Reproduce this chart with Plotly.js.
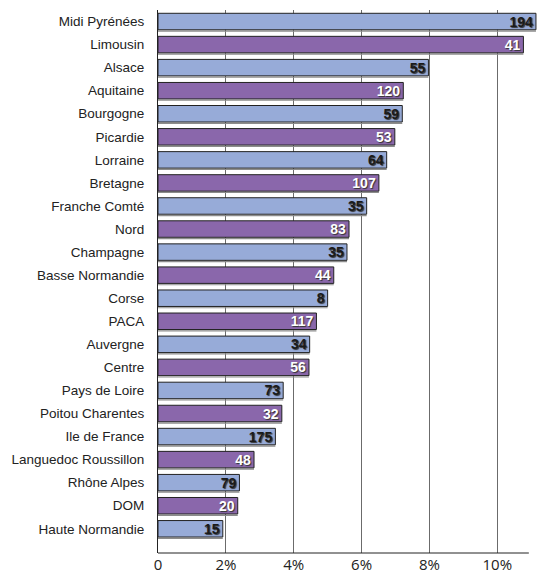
<!DOCTYPE html>
<html>
<head>
<meta charset="utf-8">
<script src="https://cdn.plot.ly/plotly-3.0.1.min.js"></script>
<style>html,body{margin:0;padding:0;background:#fff;}#chart{width:539px;height:576px;}</style>
</head>
<body>
<div id="chart"></div>
<script>
const regions = ["Midi Pyrénées","Limousin","Alsace","Aquitaine","Bourgogne","Picardie","Lorraine","Bretagne","Franche Comté","Nord","Champagne","Basse Normandie","Corse","PACA","Auvergne","Centre","Pays de Loire","Poitou Charentes","Ile de France","Languedoc Roussillon","Rhône Alpes","DOM","Haute Normandie"];
const shares = [11.14,10.77,7.97,7.23,7.20,6.98,6.74,6.51,6.15,5.63,5.57,5.18,5.00,4.67,4.47,4.45,3.69,3.65,3.46,2.83,2.40,2.35,1.91];
const counts = [194,41,55,120,59,53,64,107,35,83,35,44,8,117,34,56,73,32,175,48,79,20,15];
const tickVals = [0,2,4,6,8,10];
const tickText = ["0","2%","4%","6%","8%","10%"];

const BLUE = "#97abd8", PURPLE = "#8a67ab";
const barColors = regions.map((r,i)=> i%2===0 ? BLUE : PURPLE);
const textColors = regions.map((r,i)=> i%2===0 ? "#1a1a1a" : "#ffffff");

const shadow = {
  type:"bar", orientation:"h", x:shares, y:regions,
  width:0.05, offset:0.39,
  marker:{color:"#8c8c8c", line:{width:0}},
  hoverinfo:"skip", showlegend:false
};
const bars = {
  type:"bar", orientation:"h", x:shares, y:regions,
  width:0.715, offset:-0.3575,
  marker:{color:barColors, line:{color:"#222222", width:1}},
  text:counts.map(String), textposition:"inside", insidetextanchor:"end",
  textangle:0, constraintext:"none",
  textfont:{family:"'Liberation Sans Narrow', 'Liberation Sans', Arial, sans-serif", size:14, weight:"bold", color:textColors, shadow:"1px 1px 1px #333"},
  hoverinfo:"skip", showlegend:false
};

const layout = {
  width:539, height:576,
  margin:{l:158, r:1, t:10, b:23, pad:0},
  paper_bgcolor:"#ffffff", plot_bgcolor:"#ffffff",
  barmode:"overlay",
  xaxis:{range:[0,11.2], tickvals:tickVals, ticktext:tickText, showgrid:true, gridcolor:"#6b6b6b", gridwidth:1,
    zeroline:false, showline:false, ticks:"", ticklabelstandoff:1,
    tickfont:{family:"'Open Sans', 'Noto Sans', sans-serif", size:15, color:"#222222"}, fixedrange:true},
  yaxis:{type:"category", categoryorder:"array", categoryarray:regions, range:[23.05,-0.5],
    showgrid:false, zeroline:false, showline:true, linecolor:"#222222", linewidth:1, ticks:"", ticklabelstandoff:10,
    tickfont:{family:"'Liberation Sans', Arial, sans-serif", size:13.5, color:"#222222"}, fixedrange:true},
  shapes:[{type:"line", xref:"x", yref:"paper", x0:0, x1:10.93, y0:0, y1:0, line:{color:"#222222", width:1}}]
};
Plotly.newPlot("chart", [shadow, bars], layout, {displayModeBar:false, staticPlot:true});
</script>
</body>
</html>
